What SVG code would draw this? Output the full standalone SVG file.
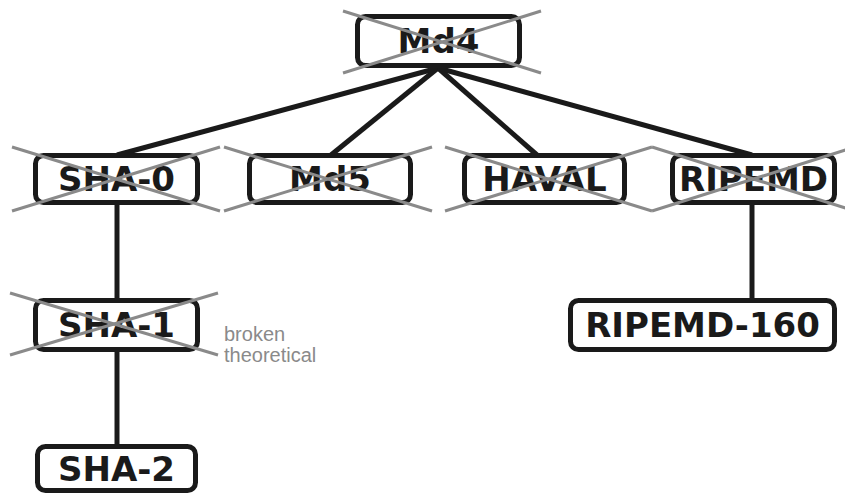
<svg xmlns="http://www.w3.org/2000/svg" width="845" height="495" viewBox="0 0 845 495">
  <style>
    .box { fill: #ffffff; stroke: #1a1a1a; stroke-width: 5; }
    .lbl { font-family: "DejaVu Sans", Verdana, sans-serif; font-weight: bold; font-size: 34px; fill: #1a1a1a; text-anchor: middle; }
    .edge { stroke: #1a1a1a; stroke-width: 5; fill: none; stroke-linecap: butt; }
    .cross { stroke: #8a8a8a; stroke-width: 3; fill: none; }
    .note { font-family: "Liberation Sans", Arial, sans-serif; font-size: 20px; fill: #8a8a8a; }
  </style>

  <!-- connectors -->
  <g id="connectors">
    <line class="edge" x1="438" y1="68" x2="117" y2="155"/>
    <line class="edge" x1="438" y1="68" x2="331" y2="155"/>
    <line class="edge" x1="438" y1="68" x2="537" y2="155"/>
    <line class="edge" x1="438" y1="68" x2="752" y2="155"/>
    <line class="edge" x1="117" y1="203" x2="117" y2="300"/>
    <line class="edge" x1="117" y1="350" x2="117" y2="446"/>
    <line class="edge" x1="752" y1="203" x2="752" y2="300"/>
  </g>

  <g id="md4">
    <rect class="box" x="357.5" y="16.5" width="162" height="49" rx="8"/>
    <text class="lbl" x="438.5" y="53">Md4</text>
    <line class="cross" x1="343" y1="11" x2="541" y2="73"/>
    <line class="cross" x1="343" y1="73" x2="541" y2="11"/>
  </g>

  <g id="sha0">
    <rect class="box" x="35.5" y="155.5" width="162" height="47" rx="8"/>
    <text class="lbl" x="116.5" y="191">SHA-0</text>
    <line class="cross" x1="12" y1="147" x2="220" y2="211"/>
    <line class="cross" x1="12" y1="211" x2="220" y2="147"/>
  </g>

  <g id="md5">
    <rect class="box" x="249.5" y="155.5" width="161" height="47" rx="8"/>
    <text class="lbl" x="330" y="191">Md5</text>
    <line class="cross" x1="224" y1="147" x2="432" y2="211"/>
    <line class="cross" x1="224" y1="211" x2="432" y2="147"/>
  </g>

  <g id="haval">
    <rect class="box" x="464.5" y="155.5" width="160" height="47" rx="8"/>
    <text class="lbl" x="544.5" y="191">HAVAL</text>
    <line class="cross" x1="445" y1="147" x2="652" y2="211"/>
    <line class="cross" x1="445" y1="211" x2="652" y2="147"/>
  </g>

  <g id="ripemd">
    <rect class="box" x="672.5" y="155.5" width="162" height="47" rx="8"/>
    <text class="lbl" x="753.5" y="191">RIPEMD</text>
    <line class="cross" x1="652" y1="147" x2="855" y2="211"/>
    <line class="cross" x1="652" y1="211" x2="855" y2="147"/>
  </g>

  <g id="sha1">
    <rect class="box" x="35.5" y="300.5" width="162" height="49" rx="8"/>
    <text class="lbl" x="116.5" y="337">SHA-1</text>
    <line class="cross" x1="10" y1="293" x2="218" y2="355"/>
    <line class="cross" x1="10" y1="355" x2="218" y2="293"/>
  </g>

  <g id="legend">
    <text class="note" x="224" y="341">broken</text>
    <text class="note" x="224" y="362">theoretical</text>
  </g>

  <g id="ripemd160">
    <rect class="box" x="570.5" y="300.5" width="264" height="49" rx="8"/>
    <text class="lbl" x="702.5" y="337">RIPEMD-160</text>
  </g>

  <g id="sha2">
    <rect class="box" x="37.5" y="446.5" width="158" height="44" rx="8"/>
    <text class="lbl" x="116.5" y="481">SHA-2</text>
  </g>
</svg>
